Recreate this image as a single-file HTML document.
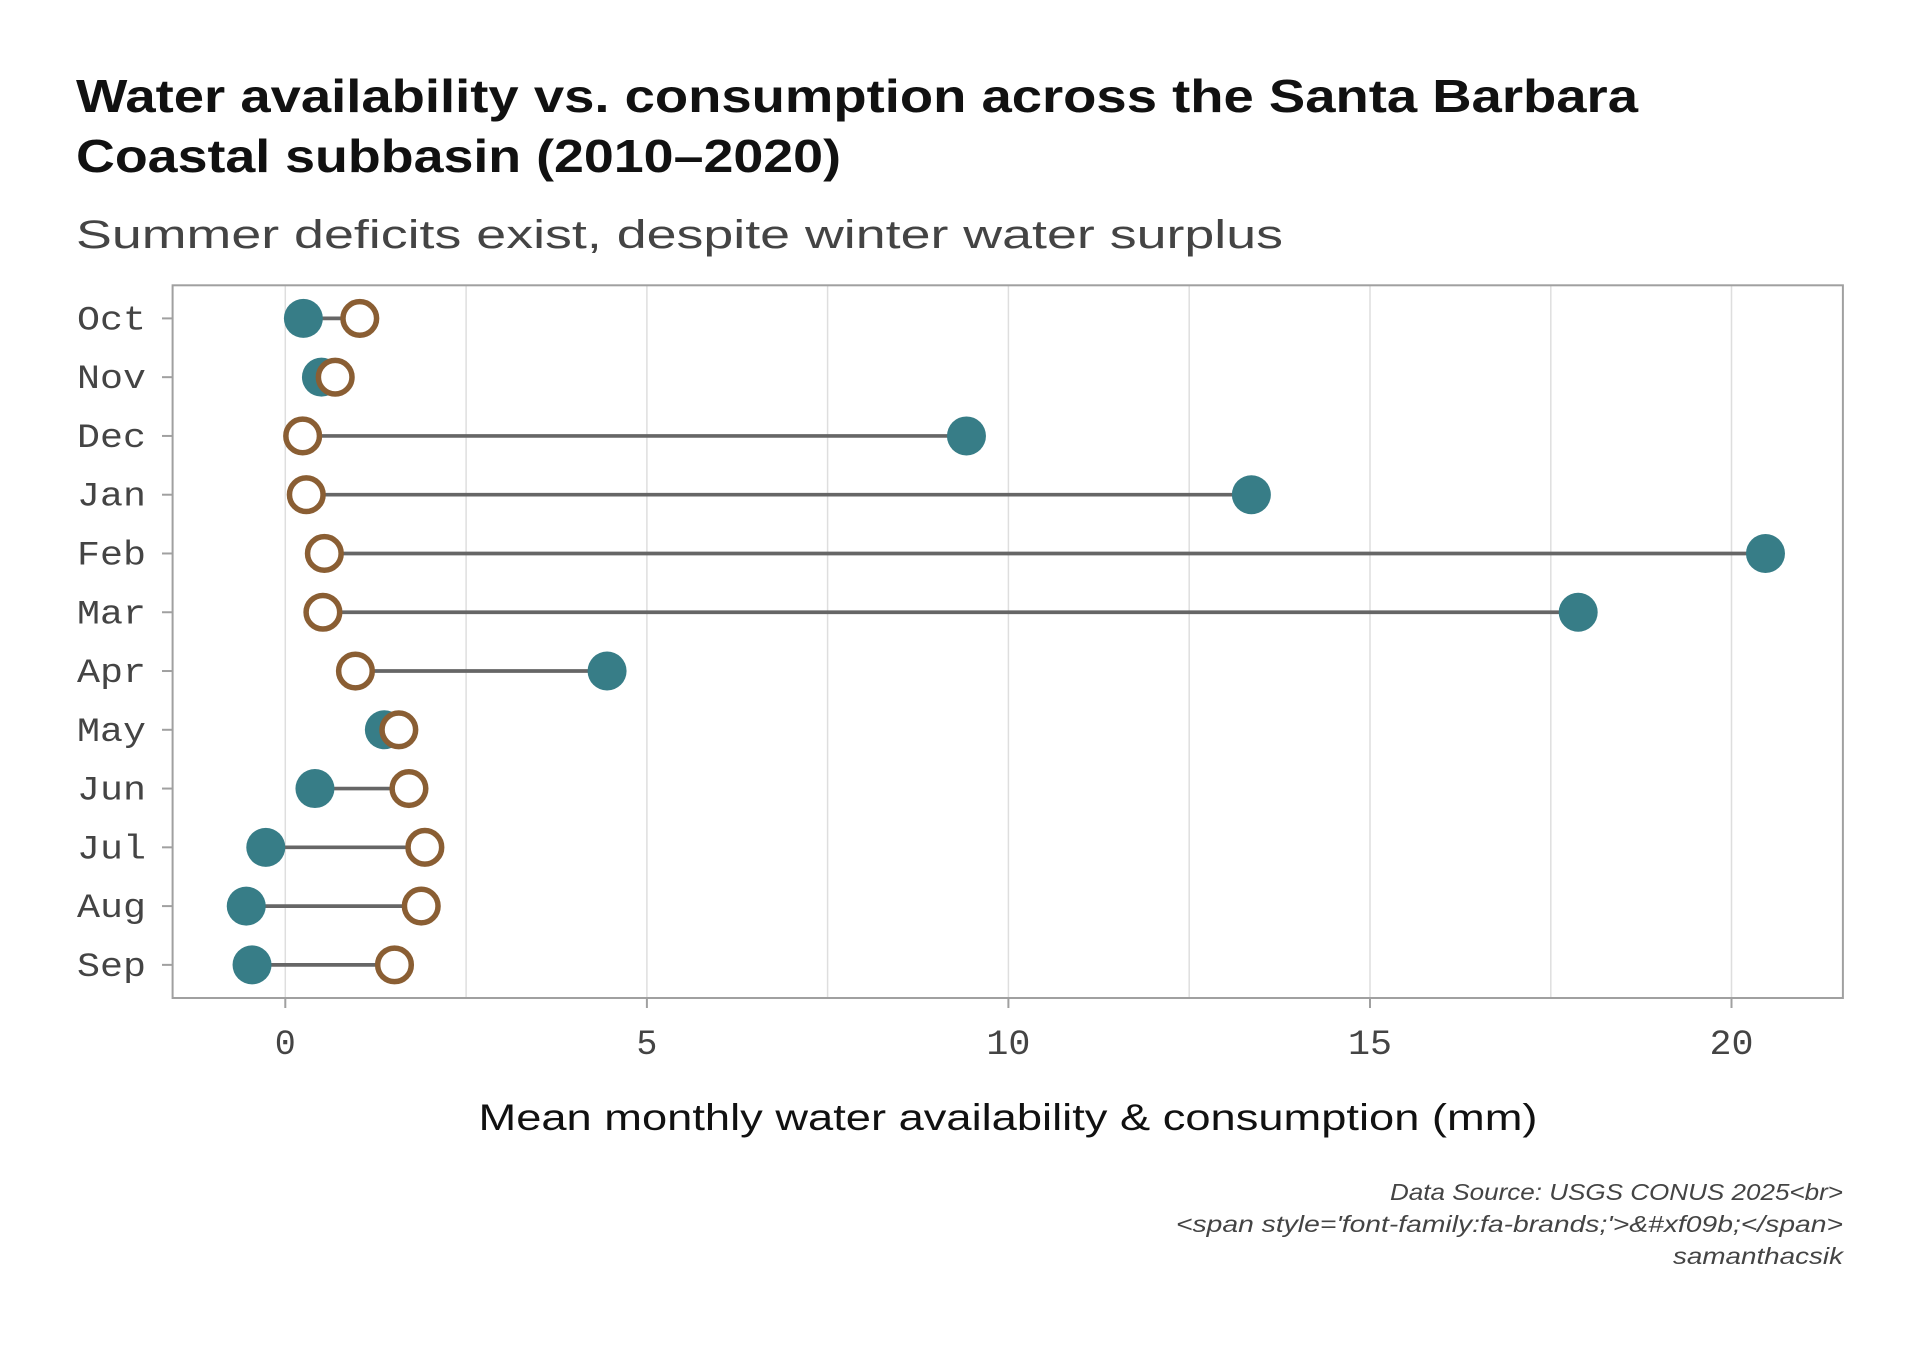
<!DOCTYPE html>
<html><head><meta charset="utf-8"><style>html,body{margin:0;padding:0;background:#fff}</style></head>
<body>
<svg width="1920" height="1344" viewBox="0 0 1920 1344" xmlns="http://www.w3.org/2000/svg">
<rect width="1920" height="1344" fill="#fff"/>
<text x="76" y="112" font-family="Liberation Sans, sans-serif" font-weight="bold" font-size="46" fill="#111" textLength="1562" lengthAdjust="spacingAndGlyphs">Water availability vs. consumption across the Santa Barbara</text>
<text x="76" y="172" font-family="Liberation Sans, sans-serif" font-weight="bold" font-size="46" fill="#111" textLength="765" lengthAdjust="spacingAndGlyphs">Coastal subbasin (2010–2020)</text>
<text x="76" y="248" font-family="Liberation Sans, sans-serif" font-size="40" fill="#444" textLength="1207" lengthAdjust="spacingAndGlyphs">Summer deficits exist, despite winter water surplus</text>
<g stroke="#dedede" stroke-width="1.5">
<line x1="285.3" y1="285" x2="285.3" y2="998"/><line x1="466.1" y1="285" x2="466.1" y2="998"/>
<line x1="646.9" y1="285" x2="646.9" y2="998"/><line x1="827.6" y1="285" x2="827.6" y2="998"/>
<line x1="1008.4" y1="285" x2="1008.4" y2="998"/><line x1="1189.2" y1="285" x2="1189.2" y2="998"/>
<line x1="1370" y1="285" x2="1370" y2="998"/><line x1="1550.8" y1="285" x2="1550.8" y2="998"/>
<line x1="1731.5" y1="285" x2="1731.5" y2="998"/>
</g>
<rect x="172.6" y="285.3" width="1670.3" height="712.7" fill="none" stroke="#a0a0a0" stroke-width="2"/>
<g stroke="#a0a0a0" stroke-width="2">
<line x1="285.3" y1="998" x2="285.3" y2="1008"/><line x1="646.9" y1="998" x2="646.9" y2="1008"/>
<line x1="1008.4" y1="998" x2="1008.4" y2="1008"/><line x1="1370" y1="998" x2="1370" y2="1008"/>
<line x1="1731.5" y1="998" x2="1731.5" y2="1008"/>
</g>
<g font-family="Liberation Mono, monospace" font-size="35" fill="#444" text-anchor="middle">
<text x="285.3" y="1054">0</text><text x="646.9" y="1054">5</text><text x="1008.4" y="1054" textLength="44" lengthAdjust="spacingAndGlyphs">10</text><text x="1370" y="1054" textLength="44" lengthAdjust="spacingAndGlyphs">15</text><text x="1731.5" y="1054" textLength="44" lengthAdjust="spacingAndGlyphs">20</text>
</g>
<text x="1008" y="1130" font-family="Liberation Sans, sans-serif" font-size="37" fill="#111" text-anchor="middle" textLength="1059" lengthAdjust="spacingAndGlyphs">Mean monthly water availability &amp; consumption (mm)</text>
<g font-family="Liberation Sans, sans-serif" font-style="italic" font-size="23" fill="#444" text-anchor="end">
<text x="1843" y="1200" textLength="453" lengthAdjust="spacingAndGlyphs">Data Source: USGS CONUS 2025&lt;br&gt;</text>
<text x="1843" y="1232" textLength="667" lengthAdjust="spacingAndGlyphs">&lt;span style='font-family:fa-brands;'&gt;&amp;#xf09b;&lt;/span&gt;</text>
<text x="1843" y="1264" textLength="170" lengthAdjust="spacingAndGlyphs">samanthacsik</text>
</g>
<g id="rows"></g>
</svg>
<script>
var d=[["Oct",0.25,1.03],["Nov",0.5,0.69],["Dec",9.42,0.24],["Jan",13.36,0.29],["Feb",20.47,0.54],["Mar",17.88,0.52],["Apr",4.45,0.97],["May",1.37,1.57],["Jun",0.41,1.71],["Jul",-0.27,1.93],["Aug",-0.54,1.88],["Sep",-0.46,1.51]];
var g=document.getElementById("rows"),s="";
function X(v){return 285.3+72.31*v;}
d.forEach(function(r,i){var y=318.4+i*58.77;
s+='<line x1="162" y1="'+y+'" x2="172.6" y2="'+y+'" stroke="#a0a0a0" stroke-width="2"/>';
s+='<text x="146" y="'+(y+11)+'" font-family="Liberation Mono, monospace" font-size="34" fill="#444" text-anchor="end" textLength="69" lengthAdjust="spacingAndGlyphs">'+r[0]+'</text>';
s+='<line x1="'+X(r[1])+'" y1="'+y+'" x2="'+X(r[2])+'" y2="'+y+'" stroke="#666" stroke-width="3.7"/>';
s+='<circle cx="'+X(r[1])+'" cy="'+y+'" r="19.5" fill="#377d87"/>';
s+='<circle cx="'+X(r[2])+'" cy="'+y+'" r="16.8" fill="#fff" stroke="#8a5e33" stroke-width="5.5"/>';});
g.innerHTML=s;
</script>
</body></html>
